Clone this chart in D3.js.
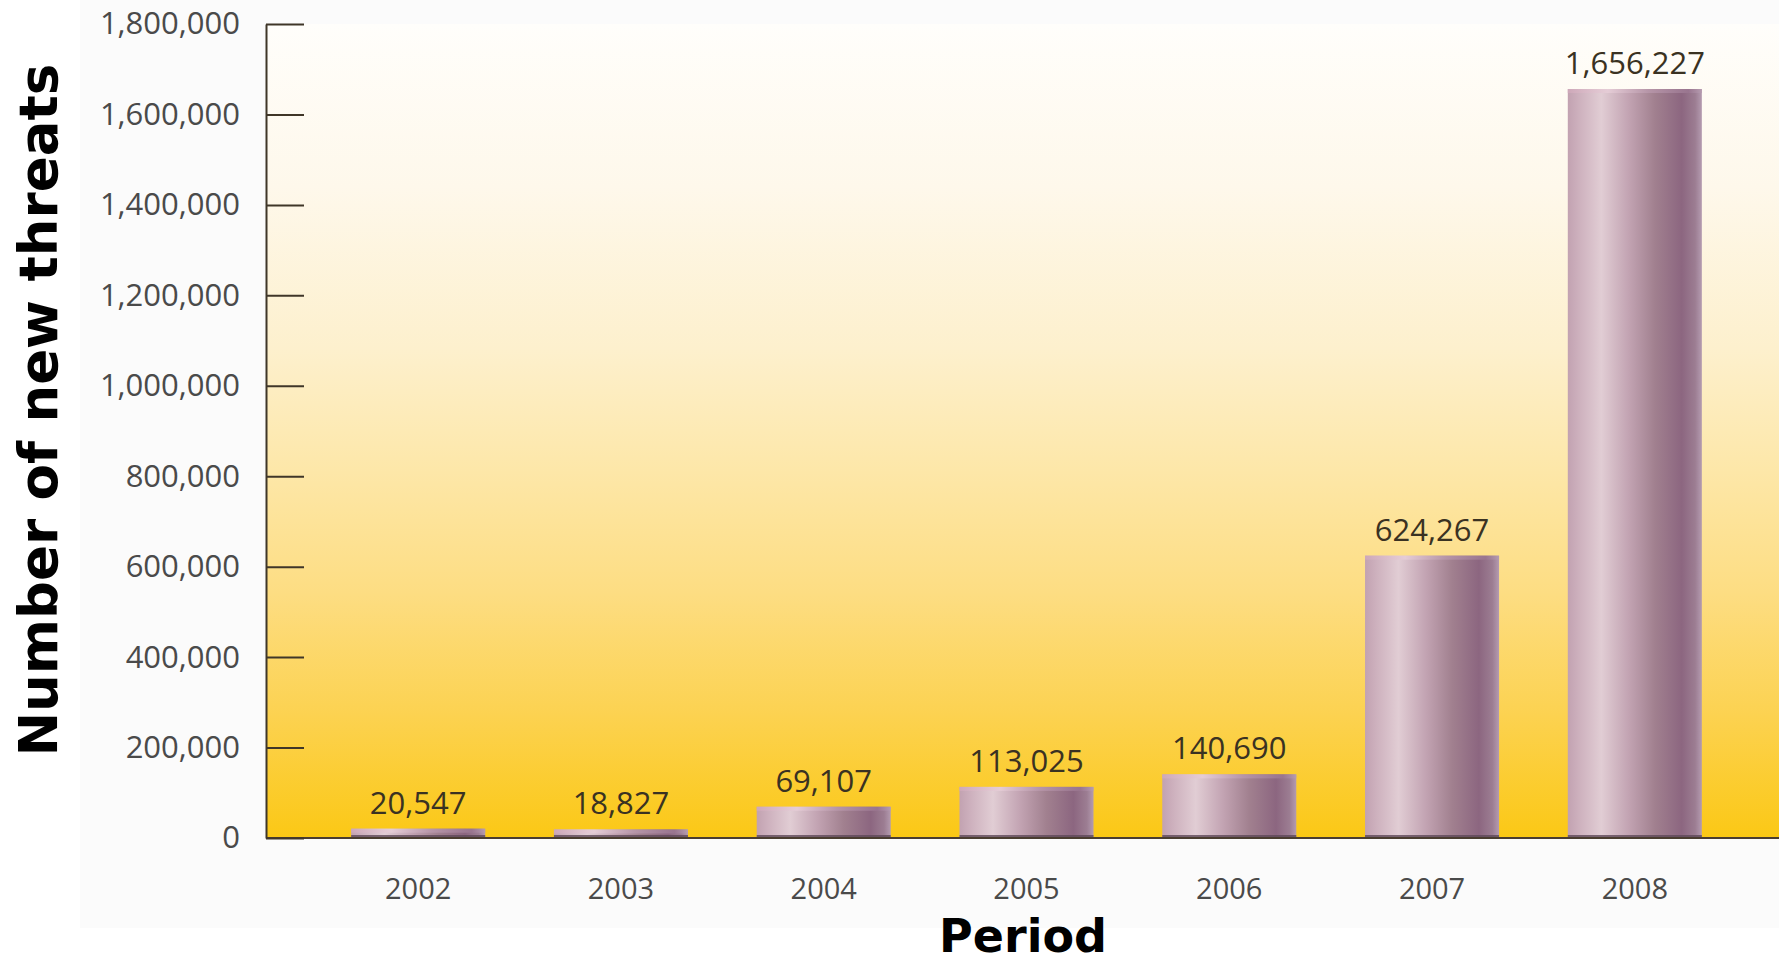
<!DOCTYPE html>
<html>
<head>
<meta charset="utf-8">
<script src="https://cdn.jsdelivr.net/npm/d3@7"></script>
<style>
  html, body { margin: 0; padding: 0; background: #ffffff; }
  svg { display: block; }
</style>
</head>
<body>
<svg id="chart" width="1779" height="965"></svg>
<script>
// ---- data ----
const years = ["2002", "2003", "2004", "2005", "2006", "2007", "2008"];
const threats = [20547, 18827, 69107, 113025, 140690, 624267, 1656227];
const yTicks = [0, 200000, 400000, 600000, 800000, 1000000, 1200000, 1400000, 1600000, 1800000];
const yTitle = "Number of new threats";
const xTitle = "Period";

const svg = d3.select("#chart");
const W = 1779, H = 965;
const axisX = 266, plotTop = 24, plotBottom = 838;

const defs = svg.append("defs");

// background vertical gradient
const bg = defs.append("linearGradient").attr("id", "bgGrad")
  .attr("x1", 0).attr("y1", 0).attr("x2", 0).attr("y2", 1);
[[0, "#fffefb"], [0.2, "#fef8eb"], [0.4, "#fdf0cd"], [0.55, "#fde7a8"],
 [0.7, "#fddd82"], [0.85, "#fcd250"], [1, "#fbc815"]]
  .forEach(([o, c]) => bg.append("stop").attr("offset", o).attr("stop-color", c));

// bar horizontal gradient (cylinder look)
const bgBar = defs.append("linearGradient").attr("id", "barGrad")
  .attr("x1", 0).attr("y1", 0).attr("x2", 1).attr("y2", 0);
[[0, "#c2a2b1"], [0.08, "#cdb0bd"], [0.25, "#e1cdd4"], [0.45, "#c3a4b3"],
 [0.65, "#a1808f"], [0.85, "#8c6680"], [0.95, "#9c7d92"], [1, "#b49bb0"]]
  .forEach(([o, c]) => bgBar.append("stop").attr("offset", o).attr("stop-color", c));

const capGrad = defs.append("linearGradient").attr("id", "capGrad")
  .attr("x1", 0).attr("y1", 0).attr("x2", 1).attr("y2", 0);
[[0, "#cfa9ba"], [0.3, "#e6cdd7"], [0.6, "#b897aa"], [0.9, "#9a7690"], [1, "#b69cb0"]]
  .forEach(([o, c]) => capGrad.append("stop").attr("offset", o).attr("stop-color", c));

// faint outer panel
svg.append("rect").attr("x", 80).attr("y", 0).attr("width", W - 80).attr("height", 928)
  .attr("fill", "#fbfbfb");

// plot background
svg.append("rect").attr("x", axisX).attr("y", plotTop)
  .attr("width", W - axisX).attr("height", plotBottom - plotTop)
  .attr("fill", "url(#bgGrad)");

// scales
const y = d3.scaleLinear().domain([0, 1800000]).range([plotBottom, plotTop]);
const x = d3.scaleBand().domain(years).range([axisX, 1787])
  .paddingInner(0.339).paddingOuter(0.42);

// bars
const bars = svg.append("g");
years.forEach((yr, i) => {
  const v = threats[i];
  const bx = x(yr), bw = x.bandwidth();
  const top = y(v);
  bars.append("rect").attr("x", bx).attr("y", top).attr("width", bw)
    .attr("height", plotBottom - top).attr("fill", "url(#barGrad)");
  bars.append("rect").attr("x", bx).attr("y", top).attr("width", bw)
    .attr("height", Math.min(4, plotBottom - top)).attr("fill", "url(#capGrad)").attr("opacity", 0.9);
  bars.append("rect").attr("x", bx).attr("y", plotBottom - 3).attr("width", bw)
    .attr("height", 3).attr("fill", "#5e4858").attr("opacity", 0.8);
  // value label
  svg.append("text").attr("x", bx + bw / 2).attr("y", top - 15)
    .attr("text-anchor", "middle")
    .attr("font-family", "'Open Sans', sans-serif").attr("font-size", 31)
    .attr("fill", "#3a3222")
    .text(d3.format(",")(v));
});

// baseline
svg.append("line").attr("x1", axisX).attr("x2", W).attr("y1", plotBottom).attr("y2", plotBottom)
  .attr("stroke", "#4a3d30").attr("stroke-width", 2);

// y axis
const yAxis = d3.axisLeft(y).tickValues(yTicks).tickFormat(d3.format(","))
  .tickSizeInner(-38).tickSizeOuter(0).tickPadding(26);
const gy = svg.append("g").attr("transform", `translate(${axisX},0)`).call(yAxis);
gy.select(".domain").attr("stroke", "#3f3628").attr("stroke-width", 2);
gy.selectAll(".tick line").attr("stroke", "#3f3628").attr("stroke-width", 2);
gy.selectAll(".tick text").attr("font-family", "'Open Sans', sans-serif")
  .attr("font-size", 31).attr("fill", "#4a4a4a");

// x labels
svg.append("g").selectAll("text").data(years).join("text")
  .attr("x", d => x(d) + x.bandwidth() / 2).attr("y", 899)
  .attr("text-anchor", "middle")
  .attr("font-family", "'Open Sans', sans-serif").attr("font-size", 29)
  .attr("fill", "#4a4a4a").text(d => d);

// titles
svg.append("text").attr("transform", "translate(57,410) rotate(-90)")
  .attr("text-anchor", "middle")
  .attr("font-family", "'DejaVu Sans', sans-serif").attr("font-weight", "bold")
  .attr("font-size", 53).attr("fill", "#000").text(yTitle);

svg.append("text").attr("x", 1023).attr("y", 952)
  .attr("text-anchor", "middle")
  .attr("font-family", "'DejaVu Sans', sans-serif").attr("font-weight", "bold")
  .attr("font-size", 46).attr("fill", "#000").text(xTitle);
</script>
</body>
</html>
